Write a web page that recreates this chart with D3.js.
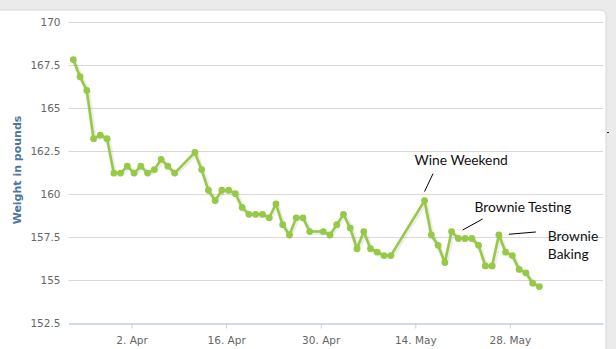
<!DOCTYPE html>
<html>
<head>
<meta charset="utf-8">
<script src="https://cdn.jsdelivr.net/npm/d3@7"></script>
<style>
  body { margin: 0; background: #ffffff; }
  svg { display: block; }
</style>
</head>
<body>
<div id="chart"></div>
<script>
// Datos: fecha de pesaje y peso en libras
const dates = [
  '2012-03-24', '2012-03-25', '2012-03-26', '2012-03-27', '2012-03-28', '2012-03-29',
  '2012-03-30', '2012-03-31', '2012-04-01', '2012-04-02', '2012-04-03', '2012-04-04',
  '2012-04-05', '2012-04-06', '2012-04-07', '2012-04-08', '2012-04-11', '2012-04-12',
  '2012-04-13', '2012-04-14', '2012-04-15', '2012-04-16', '2012-04-17', '2012-04-18',
  '2012-04-19', '2012-04-20', '2012-04-21', '2012-04-22', '2012-04-23', '2012-04-24',
  '2012-04-25', '2012-04-26', '2012-04-27', '2012-04-28', '2012-04-30', '2012-05-01',
  '2012-05-02', '2012-05-03', '2012-05-04', '2012-05-05', '2012-05-06', '2012-05-07',
  '2012-05-08', '2012-05-09', '2012-05-10', '2012-05-15', '2012-05-16', '2012-05-17',
  '2012-05-18', '2012-05-19', '2012-05-20', '2012-05-21', '2012-05-22', '2012-05-23',
  '2012-05-24', '2012-05-25', '2012-05-26', '2012-05-27', '2012-05-28', '2012-05-29',
  '2012-05-30', '2012-05-31', '2012-06-01'
];
const weights = [
  167.8, 166.8, 166.0, 163.2, 163.4, 163.2,
  161.2, 161.2, 161.6, 161.2, 161.6, 161.2,
  161.4, 162.0, 161.6, 161.2, 162.4, 161.4,
  160.2, 159.6, 160.2, 160.2, 160.0, 159.2,
  158.8, 158.8, 158.8, 158.6, 159.4, 158.2,
  157.6, 158.6, 158.6, 157.8, 157.8, 157.6,
  158.2, 158.8, 158.0, 156.8, 157.8, 156.8,
  156.6, 156.4, 156.4, 159.6, 157.6, 157.0,
  156.0, 157.8, 157.4, 157.4, 157.4, 157.0,
  155.8, 155.8, 157.6, 156.6, 156.4, 155.6,
  155.4, 154.8, 154.6
];
const weighTime = 'T09:00';   // hora aproximada del pesaje

const yTicks = [152.5, 155, 157.5, 160, 162.5, 165, 167.5, 170];
const xTickDates = ['2012-04-02', '2012-04-16', '2012-04-30', '2012-05-14', '2012-05-28'];
const xDomain = ['2012-03-23T16:00', '2012-06-10T19:00'];

// Notas sobre la gráfica: texto y punto al que apuntan
const noteTexts = [['Wine Weekend'], ['Brownie Testing'], ['Brownie', 'Baking']];
const noteDates = ['2012-05-15', '2012-05-19', '2012-05-26'];

// Desplazamientos (px) de la raya y del texto respecto al punto
const noteLayout = [
  { line: [0, -9, 8.5, -27], text: [-10, -36] },
  { line: [11, -1.5, 31, -12.5], text: [23, -20] },
  { line: [10, -0.7, 37, -3], text: [49, 6] }
];

const width = 616;
const height = 349;
const plotLeft = 68.5;
const plotRight = 603;
const plotTop = 21.7;
const plotBottom = 322.7;

const parseDay = d3.utcParse('%Y-%m-%d');
const parseTime = d3.utcParse('%Y-%m-%dT%H:%M');

const data = dates.map((d, i) => ({ day: d, date: parseTime(d + weighTime), value: weights[i] }));

const svg = d3.select('#chart')
  .append('svg')
  .attr('width', width)
  .attr('height', height);

// Fondo y marco
svg.append('rect')
  .attr('width', width)
  .attr('height', height)
  .attr('fill', '#ebebeb');

svg.append('rect')
  .attr('x', -10)
  .attr('y', 10)
  .attr('width', 616)
  .attr('height', 350)
  .attr('rx', 5)
  .attr('fill', '#ffffff')
  .attr('stroke', '#d6d6d6');

// marca suelta en el borde derecho
svg.append('line')
  .attr('x1', 607)
  .attr('x2', 609)
  .attr('y1', 132.5)
  .attr('y2', 132.5)
  .attr('stroke', '#222222');

const x = d3.scaleUtc()
  .domain(xDomain.map(parseTime))
  .range([plotLeft, plotRight]);

const y = d3.scaleLinear()
  .domain([152.5, 170])
  .range([plotBottom, plotTop]);

// Rejilla horizontal
const grid = svg.append('g').attr('class', 'grid');
grid.selectAll('line')
  .data(yTicks.filter(t => t !== 152.5))
  .enter()
  .append('line')
  .attr('x1', plotLeft)
  .attr('x2', plotRight)
  .attr('y1', d => Math.round(y(d)) + 0.5)
  .attr('y2', d => Math.round(y(d)) + 0.5)
  .attr('stroke', '#d8d8d8');

// Eje Y (solo etiquetas)
const yAxis = svg.append('g')
  .attr('transform', `translate(${plotLeft - 8}, 0.5)`)
  .call(d3.axisLeft(y).tickValues(yTicks).tickSize(0).tickPadding(0).tickFormat(d3.format('')));
yAxis.select('.domain').remove();
yAxis.selectAll('text')
  .attr('fill', '#666666')
  .attr('font-family', 'DejaVu Sans')
  .attr('font-size', 10.5)
  .attr('dy', '0.32em');

// Eje X
const xAxis = svg.append('g')
  .attr('transform', `translate(0, ${Math.round(plotBottom) + 0.5})`)
  .call(d3.axisBottom(x)
    .tickValues(xTickDates.map(parseDay))
    .tickSize(5)
    .tickSizeOuter(0)
    .tickPadding(8)
    .tickFormat(d3.utcFormat('%-d. %b')));
xAxis.select('.domain').attr('stroke', '#c0d0e0').attr('stroke-width', 1.5);
xAxis.selectAll('.tick line').attr('stroke', '#c0d0e0');
xAxis.selectAll('text')
  .attr('fill', '#666666')
  .attr('font-family', 'DejaVu Sans')
  .attr('font-size', 10.5);

// Título del eje Y
svg.append('text')
  .attr('transform', 'translate(21, 170) rotate(-90)')
  .attr('text-anchor', 'middle')
  .attr('fill', '#4d759e')
  .attr('font-family', 'DejaVu Sans')
  .attr('font-weight', 'bold')
  .attr('font-size', 11)
  .text('Weight in pounds');

// Línea de peso
const line = d3.line()
  .x(d => x(d.date))
  .y(d => y(d.value));

svg.append('path')
  .datum(data)
  .attr('d', line)
  .attr('transform', 'translate(1, 1)')
  .attr('fill', 'none')
  .attr('stroke', 'rgba(0,0,0,0.07)')
  .attr('stroke-width', 5)
  .attr('stroke-linejoin', 'round');

svg.append('path')
  .datum(data)
  .attr('d', line)
  .attr('fill', 'none')
  .attr('stroke', '#96c945')
  .attr('stroke-width', 2.6)
  .attr('stroke-linejoin', 'round');

svg.selectAll('.dot')
  .data(data)
  .enter()
  .append('circle')
  .attr('class', 'dot')
  .attr('cx', d => x(d.date))
  .attr('cy', d => y(d.value))
  .attr('r', 3.4)
  .attr('fill', '#96c945');

// Anotaciones
const byDate = new Map(data.map(d => [d.day, d]));
const noteGroup = svg.append('g').attr('class', 'notes');
noteTexts.forEach((lines, k) => {
  const p = byDate.get(noteDates[k]);
  const px = x(p.date);
  const py = y(p.value);
  const lay = noteLayout[k];
  const g = noteGroup.append('g');
  g.append('line')
    .attr('x1', px + lay.line[0])
    .attr('y1', py + lay.line[1])
    .attr('x2', px + lay.line[2])
    .attr('y2', py + lay.line[3])
    .attr('stroke', '#000000')
    .attr('stroke-width', 1);
  const t = g.append('text')
    .attr('x', px + lay.text[0])
    .attr('y', py + lay.text[1])
    .attr('font-family', 'Lato')
    .attr('font-size', 13.8)
    .attr('fill', '#111111');
  lines.forEach((l, i) => {
    t.append('tspan')
      .attr('x', px + lay.text[0])
      .attr('dy', i === 0 ? 0 : 18.5)
      .text(l);
  });
});
</script>
</body>
</html>
